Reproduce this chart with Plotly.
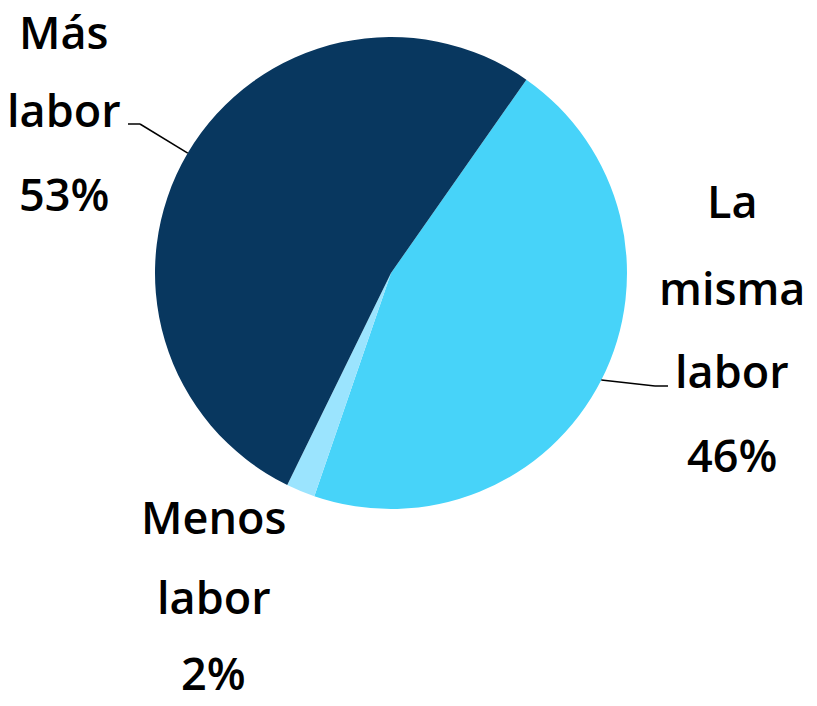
import math
import plotly.graph_objects as go

labels = ["La misma labor", "Menos labor", "Más labor"]
values = [46, 2, 53]
colors = ["#47D3F9", "#9BE4FE", "#08375F"]
label_lines = [["La", "misma", "labor"], ["Menos", "labor"], ["Más", "labor"]]

W, H = 817, 706
cx, cy, R = 391, 273, 236
rotation = 35

fig = go.Figure(go.Pie(
    labels=labels, values=values, sort=False, direction="clockwise",
    rotation=rotation, textinfo="none", hoverinfo="label+percent",
    marker=dict(colors=colors, line=dict(width=0)),
    domain=dict(x=[(cx - R) / W, (cx + R) / W], y=[1 - (cy + R) / H, 1 - (cy - R) / H]),
    showlegend=False,
))

def px(x, y):
    return x / W, 1 - y / H

# label layout (pixel centers of each text line)
label_pos = {
    "La misma labor": (732, [201, 287, 370, 454]),
    "Menos labor": (214, [516, 596, 672]),
    "Más labor": (64, [31, 110, 193]),
}
# leader line elbow/end points (layout)
leader_ends = {
    "La misma labor": [(655, 386), (668, 386)],
    "Más labor": [(140, 124), (128, 124)],
}

total = sum(values)
pcts = [46, 2, 53]
annotations = []
shapes = []
start = rotation
for lab, val, lines, pct in zip(labels, values, label_lines, pcts):
    ang = val / total * 360
    mid = math.radians(start + ang / 2)
    start += ang
    x0 = cx + R * math.sin(mid)
    y0 = cy - R * math.cos(mid)
    xc, ys = label_pos[lab]
    texts = lines + [f"{pct}%"]
    for t, yy in zip(texts, ys):
        ax, ay = px(xc, yy)
        annotations.append(dict(x=ax, y=ay, xref="paper", yref="paper", text=t,
                                showarrow=False, xanchor="center", yanchor="middle",
                                font=dict(family="Open Sans", size=45, color="#000000", weight=600)))
    if lab in leader_ends:
        pts = [(x0, y0)] + leader_ends[lab]
        for (a1, b1), (a2, b2) in zip(pts[:-1], pts[1:]):
            p1 = px(a1, b1); p2 = px(a2, b2)
            shapes.append(dict(type="line", xref="paper", yref="paper",
                               x0=p1[0], y0=p1[1], x1=p2[0], y1=p2[1],
                               line=dict(color="#000000", width=1.5)))

fig.update_layout(
    width=W, height=H, margin=dict(l=0, r=0, t=0, b=0),
    paper_bgcolor="white", plot_bgcolor="white",
    annotations=annotations, shapes=shapes,
)
fig.write_html("out.html", config={"displayModeBar": False},
               post_script="document.body.style.margin='0';")
